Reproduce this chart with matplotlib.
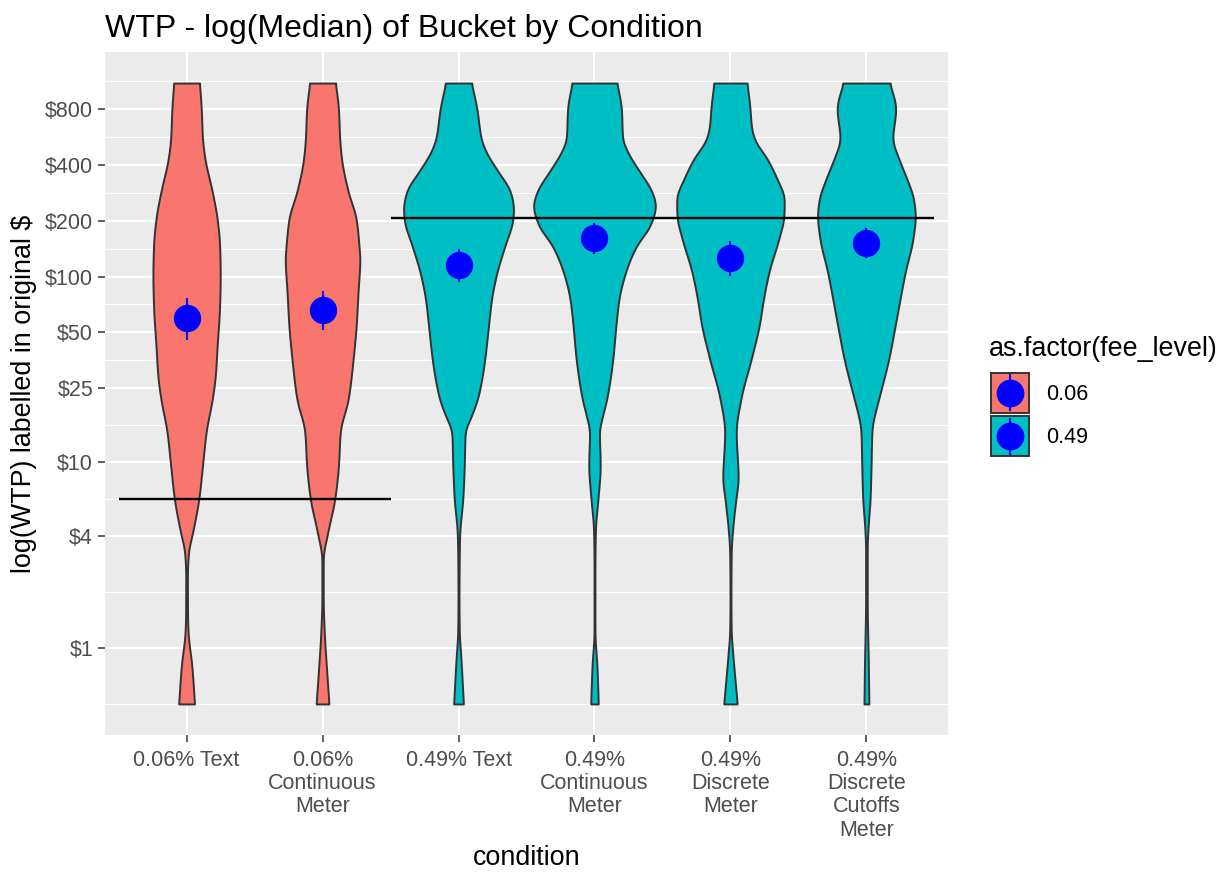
import numpy as np
import matplotlib
matplotlib.use("Agg")
import matplotlib.pyplot as plt
from matplotlib.patches import Rectangle

plt.rcParams["font.family"] = ["Liberation Sans", "DejaVu Sans"]

# ---- data -------------------------------------------------------------
conditions = ["0.06% Text", "0.06%\nContinuous\nMeter", "0.49% Text",
              "0.49%\nContinuous\nMeter", "0.49%\nDiscrete\nMeter",
              "0.49%\nDiscrete\nCutoffs\nMeter"]
fee_level = ["0.06", "0.06", "0.49", "0.49", "0.49", "0.49"]

# violin outlines: WTP value ($) and relative density (1 = widest violin)
v1_wtp = [0.5, 0.80, 1.22, 1.49, 2.45, 3.29, 4.21, 6.35, 9.59, 14.6, 21.9, 29.3,
          42.5, 69.7, 101, 146.7, 204, 285.5, 430, 551, 800, 1100]
v1_dens = [0.13, 0.086, 0.024, 0.016, 0.013, 0.032, 0.10, 0.20, 0.26, 0.32, 0.42,
           0.47, 0.50, 0.54, 0.55, 0.54, 0.50, 0.42, 0.30, 0.26, 0.24, 0.21]

v2_wtp = [0.5, 0.80, 1.22, 1.84, 3.01, 4.21, 6.35, 9.59, 14.6, 21.9, 36.0, 54.4,
          82.6, 124.4, 146.7, 204, 285.5, 430, 551, 800, 1100]
v2_dens = [0.105, 0.062, 0.028, 0.011, 0.011, 0.086, 0.20, 0.26, 0.29, 0.42, 0.50,
           0.55, 0.58, 0.61, 0.595, 0.55, 0.42, 0.31, 0.28, 0.26, 0.21]

v3_wtp = [0.5, 0.873, 1.22, 1.84, 3.29, 4.21, 6.35, 9.59, 14.6, 17.1, 21.9, 28.1,
          36.0, 54.4, 75.7, 105.9, 146.7, 204, 231, 285.5, 366, 469, 551, 800, 1100]
v3_dens = [0.08, 0.04, 0.013, 0.008, 0.013, 0.021, 0.07, 0.094, 0.11, 0.19, 0.31,
           0.38, 0.43, 0.49, 0.54, 0.63, 0.76, 0.89, 0.90, 0.85, 0.65, 0.45, 0.37,
           0.30, 0.21]

v4_wtp = [0.5, 0.80, 1.22, 2.77, 4.37, 6.35, 9.59, 14.6, 17.1, 21.9, 36.0, 54.4,
          75.7, 105.9, 146.7, 188, 240.9, 285.5, 366, 469, 551, 800, 1100]
v4_dens = [0.062, 0.04, 0.008, 0.008, 0.016, 0.057, 0.094, 0.08, 0.12, 0.20, 0.30,
           0.35, 0.40, 0.51, 0.69, 0.91, 1.0, 0.94, 0.74, 0.54, 0.46, 0.44, 0.365]

v5_wtp = [0.5, 0.952, 1.22, 1.84, 3.29, 4.21, 6.35, 8.13, 14.6, 21.9, 36.0, 54.4,
          75.7, 105.9, 159.4, 212.8, 261.7, 335.5, 430, 551, 649, 800, 1100]
v5_dens = [0.11, 0.036, 0.013, 0.008, 0.013, 0.032, 0.089, 0.126, 0.094, 0.17, 0.34,
           0.47, 0.54, 0.63, 0.79, 0.875, 0.88, 0.76, 0.60, 0.39, 0.34, 0.32, 0.27]

v6_wtp = [0.5, 0.80, 1.84, 3.41, 4.56, 6.35, 9.59, 14.6, 21.9, 23.9, 36.0, 54.4,
          75.7, 105.9, 159.4, 212.8, 261.7, 335.5, 430, 551, 800, 1100]
v6_dens = [0.04, 0.032, 0.013, 0.013, 0.029, 0.06, 0.076, 0.089, 0.20, 0.23, 0.365,
           0.47, 0.55, 0.635, 0.76, 0.80, 0.77, 0.66, 0.53, 0.43, 0.48, 0.38]

# summary: mean with lower/upper interval per condition
wtp_mean = [59.8, 66.3, 115.4, 160.8, 126.0, 151.7]
wtp_low = [45.7, 51.8, 93.9, 132.4, 100.4, 125.5]
wtp_high = [76.4, 83.4, 140.9, 194.4, 156.0, 182.7]

# group medians (0.06% conditions, 0.49% conditions)
median_06 = 6.35
median_49 = 207.0

y_breaks = [1, 4, 10, 25, 50, 100, 200, 400, 800]
y_labels = ["$1", "$4", "$10", "$25", "$50", "$100", "$200", "$400", "$800"]

fills = {"0.06": "#F8766D", "0.49": "#00BFC4"}

# ---- helpers ------------------------------------------------------------
def pchip(x, y, xi):
    x = np.asarray(x, float)
    y = np.asarray(y, float)
    h = np.diff(x)
    delta = np.diff(y) / h
    d = np.zeros_like(y)
    for k in range(1, len(x) - 1):
        if delta[k - 1] * delta[k] > 0:
            w1 = 2 * h[k] + h[k - 1]
            w2 = h[k] + 2 * h[k - 1]
            d[k] = (w1 + w2) / (w1 / delta[k - 1] + w2 / delta[k])
    d[0] = delta[0]
    d[-1] = delta[-1]
    idx = np.clip(np.searchsorted(x, xi) - 1, 0, len(x) - 2)
    t = (xi - x[idx]) / h[idx]
    h00 = 2 * t**3 - 3 * t**2 + 1
    h10 = t**3 - 2 * t**2 + t
    h01 = -2 * t**3 + 3 * t**2
    h11 = t**3 - t**2
    return (h00 * y[idx] + h10 * h[idx] * d[idx] + h01 * y[idx + 1]
            + h11 * h[idx] * d[idx + 1])


def soften(v, sigma=4):
    # light gaussian smoothing of an outline, edges held by padding
    k = np.arange(-3 * sigma, 3 * sigma + 1)
    w = np.exp(-0.5 * (k / sigma) ** 2)
    w /= w.sum()
    p = np.pad(v, 3 * sigma, mode="edge")
    return np.convolve(p, w, mode="valid")


# ---- figure -----------------------------------------------------------
W, H = 1227, 875
fig = plt.figure(figsize=(W / 100, H / 100), dpi=100)
px_l, px_r, px_t, px_b = 105, 948, 52, 735
ax = fig.add_axes([px_l / W, 1 - px_b / H, (px_r - px_l) / W, (px_b - px_t) / H])
ax.set_facecolor("#EBEBEB")
for s in ax.spines.values():
    s.set_visible(False)

ax.set_yscale("log")
lo, hi = np.log10(0.5), np.log10(1100)
pad = 0.05 * (hi - lo)
ax.set_ylim(10 ** (lo - pad), 10 ** (hi + pad))
ax.set_xlim(0.4, 6.6)

# grid
lb = np.log10(y_breaks)
mids = (lb[:-1] + lb[1:]) / 2
minor = np.concatenate([[lb[0] - (lb[1] - lb[0]) / 2], mids,
                        [lb[-1] + (lb[-1] - lb[-2]) / 2]])
for m in minor:
    ax.axhline(10 ** m, color="white", lw=0.85, zorder=0)
for b in y_breaks:
    ax.axhline(b, color="white", lw=1.6, zorder=0.5)
xs = np.arange(1, 7)
for x in xs:
    ax.axvline(x, color="white", lw=1.6, zorder=0.5)

# violins
violins = [(v1_wtp, v1_dens), (v2_wtp, v2_dens), (v3_wtp, v3_dens),
           (v4_wtp, v4_dens), (v5_wtp, v5_dens), (v6_wtp, v6_dens)]
for x, (wtp, dens), fee in zip(xs, violins, fee_level):
    lw_ = np.log10(wtp)
    grid = np.linspace(lw_[0], lw_[-1], 600)
    hw = soften(pchip(lw_, dens, grid))
    hw = np.clip(hw, 0.004, None) * 0.45
    ax.fill_betweenx(10 ** grid, x - hw, x + hw, facecolor=fills[fee],
                     edgecolor="#333333", linewidth=1.4, zorder=2)

# mean and interval
ax.vlines(xs, wtp_low, wtp_high, color="blue", lw=1.5, zorder=3)
ax.plot(xs, wtp_mean, "o", color="blue", ms=19.7, mec="none", zorder=4)

# group medians
ax.hlines(median_06, 0.5, 2.5, color="black", lw=1.7, zorder=5)
ax.hlines(median_49, 2.5, 6.5, color="black", lw=1.7, zorder=5)

# ticks
ax.set_yticks(y_breaks)
ax.set_yticklabels(y_labels)
ax.yaxis.set_minor_locator(matplotlib.ticker.NullLocator())
ax.set_xticks(xs)
ax.set_xticklabels(conditions, linespacing=1.13)
ax.tick_params(axis="both", which="major", length=5, width=1.1, color="#333333",
               labelcolor="#4D4D4D", labelsize=15.5)
ax.tick_params(axis="y", pad=3.6)
ax.tick_params(axis="x", pad=6.0)

# axis titles
ax.set_xlabel("condition", fontsize=19.4, color="black")
ax.xaxis.set_label_coords(0.5, (px_b - 858) / (px_b - px_t))
ax.xaxis.label.set_verticalalignment("center")
ax.set_ylabel("log(WTP) labelled in original $", fontsize=19.4, color="black")
ax.yaxis.set_label_coords((24 - px_l) / (px_r - px_l), 0.5)
ax.yaxis.label.set_verticalalignment("center")

fig.text(px_l / W, 1 - 36.5 / H, "WTP - log(Median) of Bucket by Condition",
         fontsize=23, va="baseline", ha="left")

# legend drawn in pixel coordinates
lg = fig.add_axes([0, 0, 1, 1], facecolor="none")
lg.set_xlim(0, W)
lg.set_ylim(H, 0)
lg.axis("off")
lg.text(989, 356, "as.factor(fee_level)", fontsize=19.4, va="baseline", ha="left")
for i, fee in enumerate(["0.06", "0.49"]):
    top = 372.7 + i * 43.3
    lg.add_patch(Rectangle((990.7, top), 38.6, 40, facecolor=fills[fee],
                           edgecolor="#333333", lw=1.4))
    cx, cy = 1010, top + 20
    lg.plot([cx, cx], [top + 2.5, top + 37.5], color="blue", lw=1.5)
    lg.plot([cx], [cy], "o", color="blue", ms=20, mec="none")
    lg.text(1046, cy + 1.5, fee, fontsize=15.5, va="center", ha="left")

fig.savefig("out.png", dpi=100)
